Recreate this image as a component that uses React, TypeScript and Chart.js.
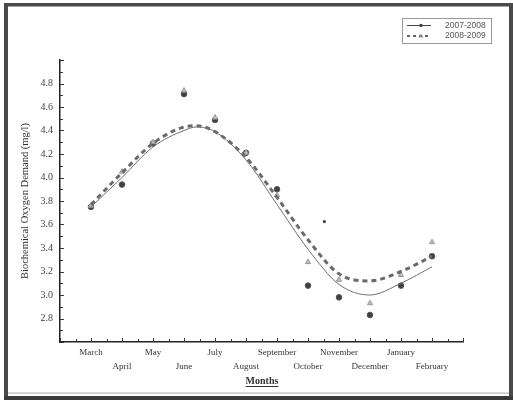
import React, { useEffect, useRef } from 'react';
import { Chart, registerables } from 'chart.js';

Chart.register(...registerables);

const months = ['March', 'April', 'May', 'June', 'July', 'August', 'September', 'October', 'November', 'December', 'January', 'February'];
const seriesLabels = ['2007-2008', '2008-2009'];
const bod0708 = [3.75, 3.94, 4.29, 4.71, 4.49, 4.21, 3.9, 3.08, 2.98, 2.83, 3.08, 3.33];
const bod0809 = [3.76, 4.05, 4.3, 4.74, 4.51, 4.21, 3.85, 3.28, 3.13, 2.93, 3.17, 3.45];
const trendMonths = [0, 1, 2, 3, 3.4, 4, 5, 6, 7, 8, 9, 10, 11];
const trend0708 = [3.75, 4.0, 4.26, 4.4, 4.43, 4.39, 4.15, 3.77, 3.39, 3.09, 3.0, 3.1, 3.24];
const trend0809 = [3.77, 4.04, 4.29, 4.43, 4.44, 4.39, 4.17, 3.83, 3.47, 3.18, 3.12, 3.2, 3.33];
const strayMonth = [7.53];
const strayValue = [3.625];
const yTickValues = [2.8, 3.0, 3.2, 3.4, 3.6, 3.8, 4.0, 4.2, 4.4, 4.6, 4.8];
const xTitle = 'Months';
const yTitle = 'Biochemical Oxygen Demand (mg/l)';

const pts = (xs: number[], ys: number[]) => xs.map((x, i) => ({ x, y: ys[i] }));

export default function App() {
  const ref = useRef<HTMLCanvasElement>(null);

  useEffect(() => {
    if (!ref.current) return;

    const framePlugin = {
      id: 'frame',
      beforeDraw(chart: any) {
        const ctx = chart.ctx;
        ctx.save();
        ctx.fillStyle = '#ffffff';
        ctx.fillRect(0, 0, chart.width, chart.height);
        ctx.fillStyle = '#4a4a4a';
        ctx.fillRect(4, 3, 4, 397);
        ctx.fillRect(4, 3, 509, 3.5);
        ctx.fillRect(509, 3, 4, 397);
        ctx.fillStyle = '#3a3a3a';
        ctx.fillRect(4, 396, 509, 4);
        ctx.fillStyle = '#b8b8b8';
        ctx.fillRect(8, 392.5, 501, 1.2);
        ctx.restore();
      },
    };

    const decoPlugin = {
      id: 'deco',
      afterDraw(chart: any) {
        const ctx = chart.ctx;
        const xs = chart.scales.x;
        const ys = chart.scales.y;
        const area = chart.chartArea;
        ctx.save();
        ctx.strokeStyle = '#333';
        ctx.lineWidth = 1;
        for (let k = -2; k <= 24; k++) {
          const v = k / 2;
          const px = Math.round(xs.getPixelForValue(v)) + 0.5;
          const len = k % 2 === 0 ? 4 : 3;
          ctx.beginPath();
          ctx.moveTo(px, area.bottom);
          ctx.lineTo(px, area.bottom - len);
          ctx.stroke();
        }
        for (let k = 26; k <= 50; k++) {
          const v = k / 10;
          const py = Math.round(ys.getPixelForValue(v)) + 0.5;
          const len = k % 2 === 0 ? 4 : 3;
          ctx.beginPath();
          ctx.moveTo(area.left, py);
          ctx.lineTo(area.left + len, py);
          ctx.stroke();
        }
        ctx.fillStyle = '#333';
        ctx.font = 'bold 10px "Liberation Serif"';
        ctx.textAlign = 'center';
        ctx.textBaseline = 'middle';
        const cx = (area.left + area.right) / 2 + 0.5;
        ctx.fillText(xTitle, cx, 381);
        const w = ctx.measureText(xTitle).width;
        ctx.fillRect(cx - w / 2, 386, w, 1);
        ctx.save();
        ctx.translate(25, 201);
        ctx.rotate(-Math.PI / 2);
        ctx.font = '10.5px "Liberation Serif"';
        ctx.fillStyle = '#333';
        ctx.fillText(yTitle, 0, 0);
        ctx.restore();
        ctx.strokeStyle = '#999';
        ctx.lineWidth = 1;
        ctx.strokeRect(402.5, 18.5, 89, 25);
        ctx.strokeStyle = '#444';
        ctx.lineWidth = 1;
        ctx.beginPath();
        ctx.moveTo(407, 25.5);
        ctx.lineTo(431, 25.5);
        ctx.stroke();
        ctx.fillStyle = '#444';
        ctx.beginPath();
        ctx.arc(421, 25.5, 1.8, 0, Math.PI * 2);
        ctx.fill();
        ctx.strokeStyle = '#666';
        ctx.lineWidth = 2;
        ctx.setLineDash([3, 3]);
        ctx.beginPath();
        ctx.moveTo(407, 36);
        ctx.lineTo(431, 36);
        ctx.stroke();
        ctx.setLineDash([]);
        ctx.fillStyle = '#888';
        ctx.beginPath();
        ctx.moveTo(421, 33.5);
        ctx.lineTo(423.5, 37.5);
        ctx.lineTo(418.5, 37.5);
        ctx.closePath();
        ctx.fill();
        ctx.fillStyle = '#555';
        ctx.font = '8.5px "Liberation Sans"';
        ctx.textAlign = 'left';
        ctx.fillText(seriesLabels[0], 445, 25.5);
        ctx.fillText(seriesLabels[1], 445, 36);
        ctx.restore();
      },
    };

    const chart = new Chart(ref.current, {
      type: 'scatter',
      data: {
        datasets: [
          {
            label: seriesLabels[0] + ' trend',
            data: pts(trendMonths, trend0708),
            showLine: true,
            borderColor: '#707070',
            borderWidth: 1,
            pointRadius: 0,
            cubicInterpolationMode: 'monotone',
          },
          {
            label: seriesLabels[1] + ' trend',
            data: pts(trendMonths, trend0809),
            showLine: true,
            borderColor: '#6a6a6a',
            borderWidth: 3,
            borderDash: [5, 4],
            pointRadius: 0,
            cubicInterpolationMode: 'monotone',
          },
          {
            label: seriesLabels[1],
            data: pts(months.map((_, i) => i), bod0809),
            pointStyle: 'triangle',
            pointRadius: 3,
            backgroundColor: '#bdbdbd',
            borderColor: '#9a9a9a',
            borderWidth: 1,
          },
          {
            label: seriesLabels[0],
            data: pts(months.map((_, i) => i), bod0708),
            pointStyle: 'circle',
            pointRadius: 2.8,
            backgroundColor: '#404040',
            borderColor: '#555',
            borderWidth: 1,
          },
          {
            label: 'stray',
            data: pts(strayMonth, strayValue),
            pointStyle: 'circle',
            pointRadius: 1.6,
            backgroundColor: '#444',
            borderColor: '#444',
            borderWidth: 0,
          },
        ],
      },
      options: {
        responsive: false,
        animation: false,
        layout: { padding: { left: 0, top: 60, right: 50, bottom: 0 } },
        plugins: { legend: { display: false }, tooltip: { enabled: false } },
        scales: {
          x: {
            type: 'linear',
            min: -1,
            max: 12,
            grid: { display: false, drawTicks: false },
            border: { display: true, color: '#222', width: 1.5 },
            afterBuildTicks: (scale: any) => {
              scale.ticks = months.map((_, i) => ({ value: i }));
            },
            afterFit: (scale: any) => {
              scale.height = 58;
            },
            ticks: {
              autoSkip: false,
              maxRotation: 0,
              padding: 4,
              color: '#333',
              font: { family: '"Liberation Serif"', size: 9, lineHeight: 1.55 },
              callback: (v: any) => {
                const i = Math.round(Number(v));
                const name = months[i] ?? '';
                return i % 2 === 1 ? ['', name] : name;
              },
            },
          },
          y: {
            type: 'linear',
            min: 2.6,
            max: 5.0,
            grid: { display: false, drawTicks: false },
            border: { display: true, color: '#222', width: 1.5 },
            afterBuildTicks: (scale: any) => {
              scale.ticks = yTickValues.map((v) => ({ value: v }));
            },
            afterFit: (scale: any) => {
              scale.width = 60;
            },
            ticks: {
              padding: 7,
              color: '#444',
              font: { family: '"Liberation Serif"', size: 10 },
              callback: (v: any) => Number(v).toFixed(1),
            },
          },
        },
      },
      plugins: [framePlugin, decoPlugin],
    } as any);

    return () => chart.destroy();
  }, []);

  return (
    <div style={{ position: 'fixed', left: 0, top: 0, width: 513, height: 400 }}>
      <canvas ref={ref} width={513} height={400} style={{ display: 'block' }} />
    </div>
  );
}
